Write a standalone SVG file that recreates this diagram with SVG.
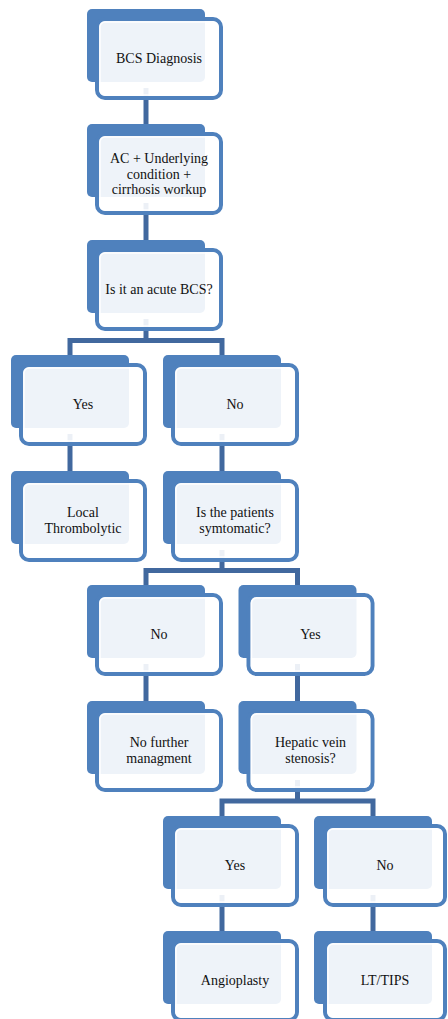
<svg xmlns="http://www.w3.org/2000/svg" width="448" height="1019" viewBox="0 0 448 1019">
<style>
.a{fill:#4f81bd}
.b{fill:#ffffff;fill-opacity:0.9;stroke:#4f81bd;stroke-width:4}
.c{fill:none;stroke:#ffffff;stroke-width:1.5;stroke-opacity:0.9}
.k{fill:none;stroke:#41689e;stroke-width:5}
text{font-family:"Liberation Serif","Times New Roman",serif;font-size:14px;fill:#111111;text-anchor:middle}
</style>
<rect width="448" height="1019" fill="#ffffff"/>
<g id="connectors">
<path class="k" d="M146 88V124"/>
<path class="k" d="M146 203V240"/>
<path class="k" d="M146 319V340.5M70 355V340.5H222V355"/>
<path class="k" d="M70 434V471"/>
<path class="k" d="M222 434V471"/>
<path class="k" d="M222 550V570.5M146 585V570.5H297.5V585"/>
<path class="k" d="M146 664V701"/>
<path class="k" d="M297.5 664V701"/>
<path class="k" d="M297.5 780V801M222 816V801H373V816"/>
<path class="k" d="M222 895V931"/>
<path class="k" d="M373 895V931"/>
</g>
<g id="n1"><rect class="a" x="87" y="9" width="118" height="73" rx="5"/><rect class="b" x="97" y="19" width="124" height="79" rx="8"/><rect class="c" x="100" y="22" width="118" height="73" rx="5"/><text x="159" y="63">BCS Diagnosis</text></g>
<g id="n2"><rect class="a" x="87" y="124" width="118" height="73" rx="5"/><rect class="b" x="97" y="134" width="124" height="79" rx="8"/><rect class="c" x="100" y="137" width="118" height="73" rx="5"/><text x="159" y="163">AC + Underlying</text><text x="159" y="178.5">condition +</text><text x="159" y="194">cirrhosis workup</text></g>
<g id="n3"><rect class="a" x="87" y="240" width="118" height="73" rx="5"/><rect class="b" x="97" y="250" width="124" height="79" rx="8"/><rect class="c" x="100" y="253" width="118" height="73" rx="5"/><text x="159" y="294">Is it an acute BCS?</text></g>
<g id="n4"><rect class="a" x="11" y="355" width="118" height="73" rx="5"/><rect class="b" x="21" y="365" width="124" height="79" rx="8"/><rect class="c" x="24" y="368" width="118" height="73" rx="5"/><text x="83" y="409">Yes</text></g>
<g id="n5"><rect class="a" x="163" y="355" width="118" height="73" rx="5"/><rect class="b" x="173" y="365" width="124" height="79" rx="8"/><rect class="c" x="176" y="368" width="118" height="73" rx="5"/><text x="235" y="409">No</text></g>
<g id="n6"><rect class="a" x="11" y="471" width="118" height="73" rx="5"/><rect class="b" x="21" y="481" width="124" height="79" rx="8"/><rect class="c" x="24" y="484" width="118" height="73" rx="5"/><text x="83" y="517">Local</text><text x="83" y="532.5">Thrombolytic</text></g>
<g id="n7"><rect class="a" x="163" y="471" width="118" height="73" rx="5"/><rect class="b" x="173" y="481" width="124" height="79" rx="8"/><rect class="c" x="176" y="484" width="118" height="73" rx="5"/><text x="235" y="517">Is the patients</text><text x="235" y="532.5">symtomatic?</text></g>
<g id="n8"><rect class="a" x="87" y="585" width="118" height="73" rx="5"/><rect class="b" x="97" y="595" width="124" height="79" rx="8"/><rect class="c" x="100" y="598" width="118" height="73" rx="5"/><text x="159" y="639">No</text></g>
<g id="n9"><rect class="a" x="238.5" y="585" width="118" height="73" rx="5"/><rect class="b" x="248.5" y="595" width="124" height="79" rx="8"/><rect class="c" x="251.5" y="598" width="118" height="73" rx="5"/><text x="310.5" y="639">Yes</text></g>
<g id="n10"><rect class="a" x="87" y="701" width="118" height="73" rx="5"/><rect class="b" x="97" y="711" width="124" height="79" rx="8"/><rect class="c" x="100" y="714" width="118" height="73" rx="5"/><text x="159" y="747">No further</text><text x="159" y="762.5">managment</text></g>
<g id="n11"><rect class="a" x="238.5" y="701" width="118" height="73" rx="5"/><rect class="b" x="248.5" y="711" width="124" height="79" rx="8"/><rect class="c" x="251.5" y="714" width="118" height="73" rx="5"/><text x="310.5" y="747">Hepatic vein</text><text x="310.5" y="762.5">stenosis?</text></g>
<g id="n12"><rect class="a" x="163" y="816" width="118" height="73" rx="5"/><rect class="b" x="173" y="826" width="124" height="79" rx="8"/><rect class="c" x="176" y="829" width="118" height="73" rx="5"/><text x="235" y="870">Yes</text></g>
<g id="n13"><rect class="a" x="314" y="816" width="118" height="73" rx="5"/><rect class="b" x="325" y="826" width="120" height="79" rx="8"/><rect class="c" x="328" y="829" width="114" height="73" rx="5"/><text x="385" y="870">No</text></g>
<g id="n14"><rect class="a" x="163" y="931" width="118" height="73" rx="5"/><rect class="b" x="173" y="941" width="124" height="79" rx="8"/><rect class="c" x="176" y="944" width="118" height="73" rx="5"/><text x="235" y="985">Angioplasty</text></g>
<g id="n15"><rect class="a" x="314" y="931" width="118" height="73" rx="5"/><rect class="b" x="325" y="941" width="120" height="79" rx="8"/><rect class="c" x="328" y="944" width="114" height="73" rx="5"/><text x="385" y="985">LT/TIPS</text></g>
</svg>
